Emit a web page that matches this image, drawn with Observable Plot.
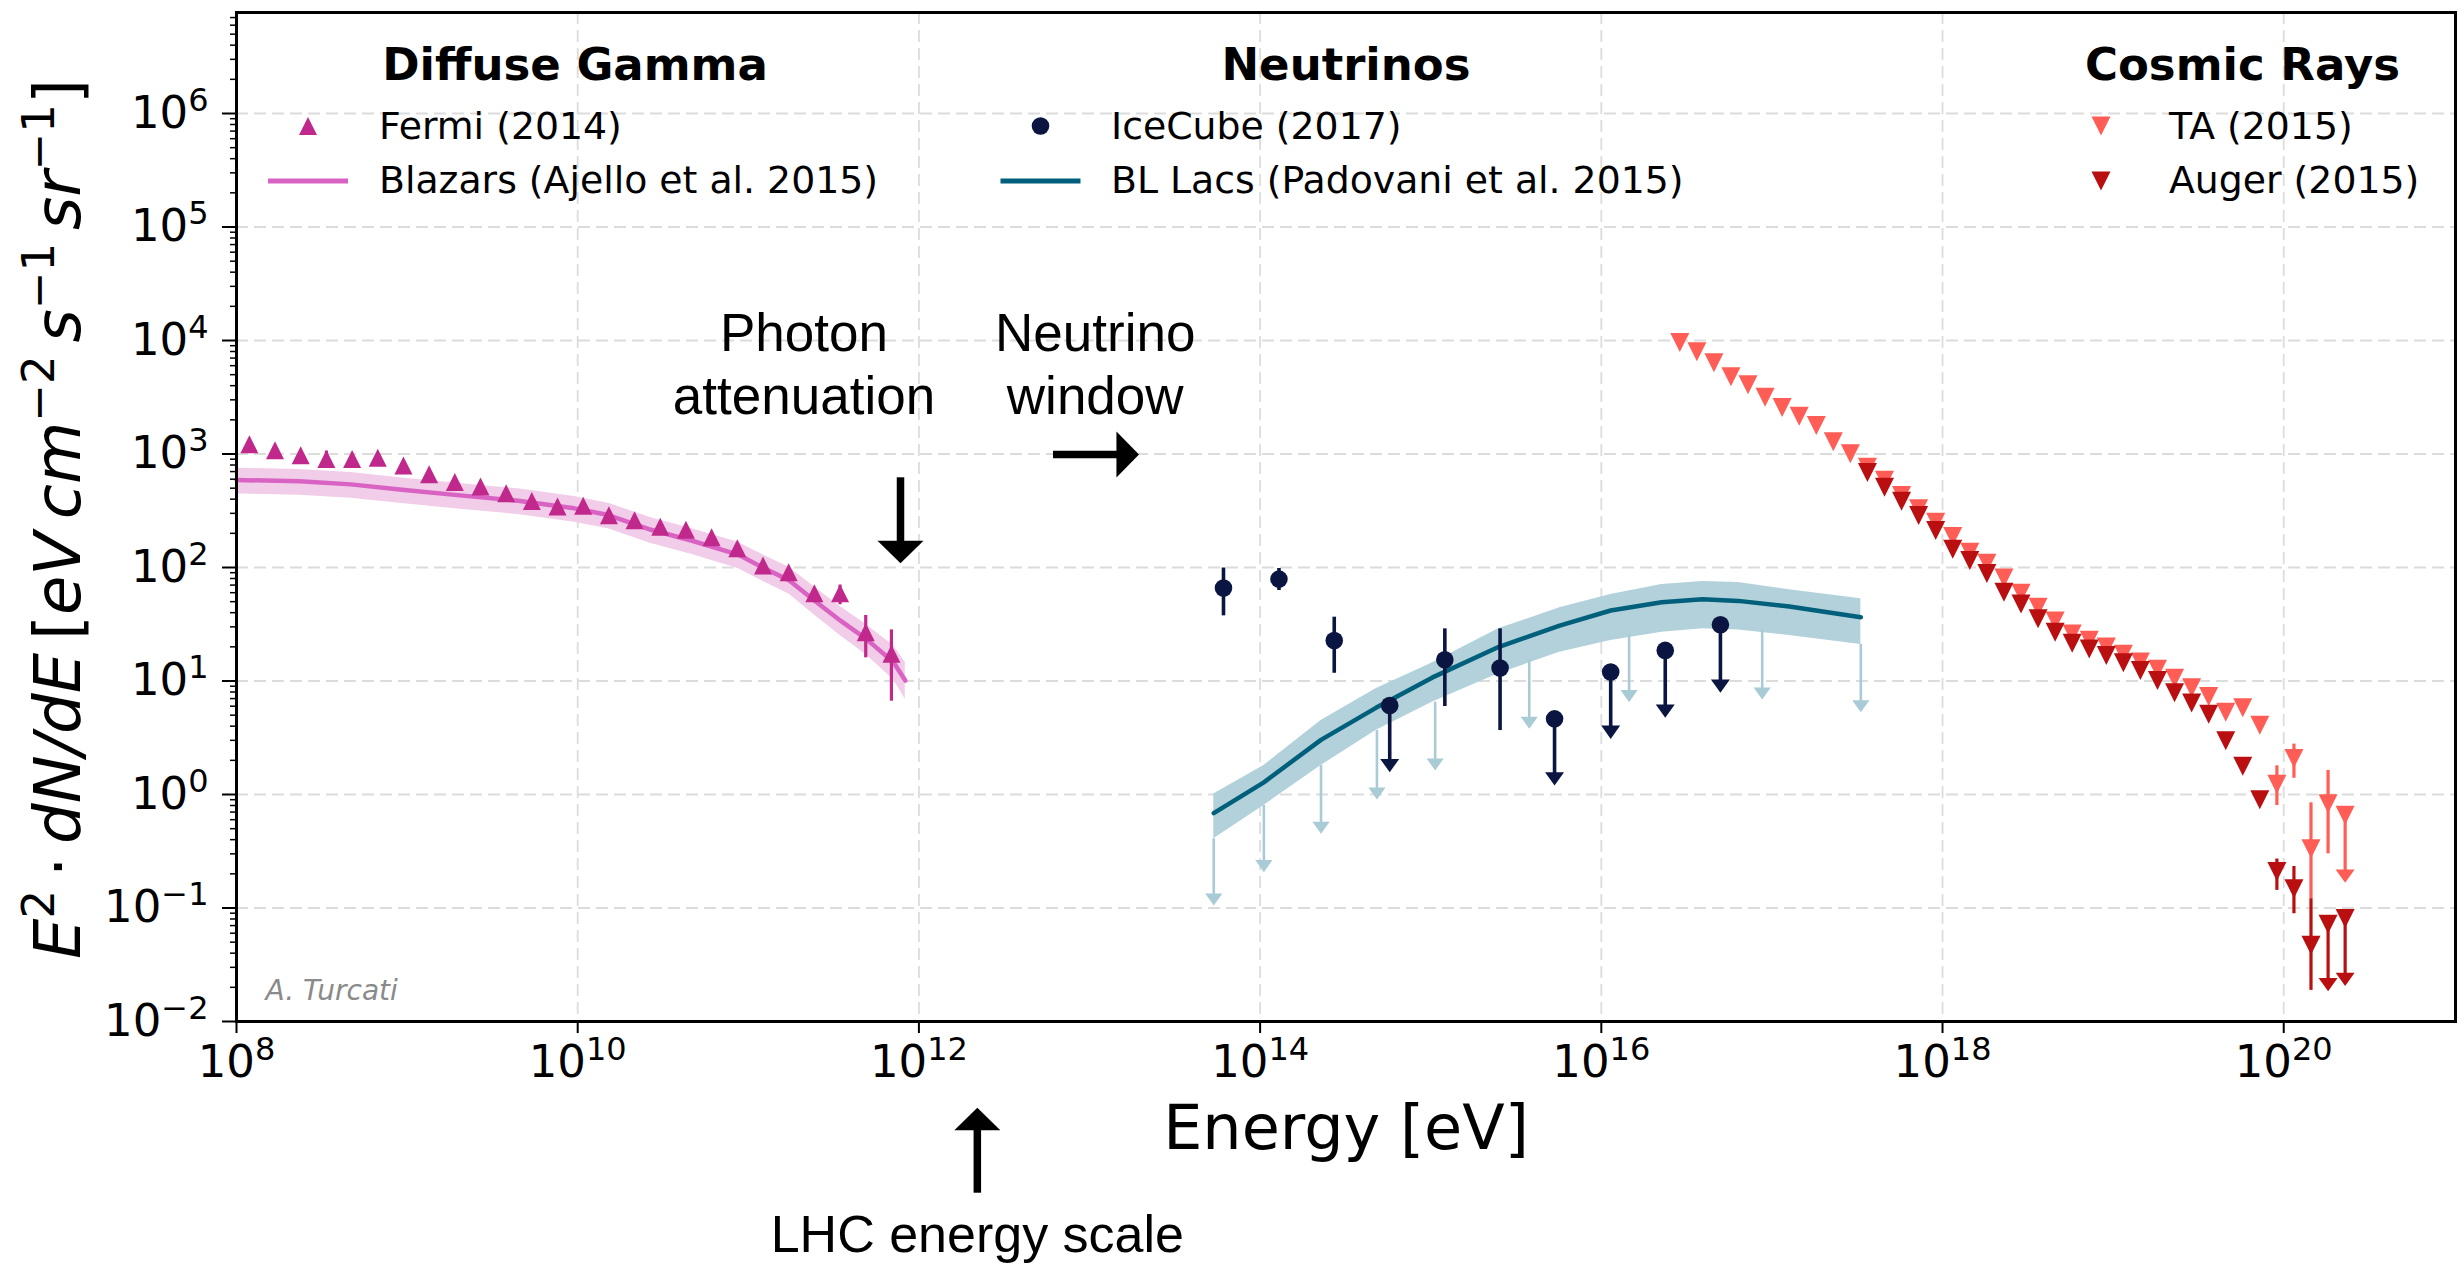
<!DOCTYPE html>
<html>
<head>
<meta charset="utf-8">
<script src="https://cdn.jsdelivr.net/npm/d3@7"></script>
<script src="https://cdn.jsdelivr.net/npm/@observablehq/plot@0.6"></script>
<style>
  html, body { margin: 0; padding: 0; background: #ffffff; }
  #chart { width: 2462px; height: 1264px; }
</style>
</head>
<body>
<div id="chart"></div>
<script>
// ---------- Diffuse gamma rays: Fermi-LAT (2014) ----------
const fermiEnergy = [1.190e8, 1.682e8, 2.379e8, 3.365e8, 4.760e8, 6.730e8, 9.518e8, 1.346e9, 1.904e9, 2.693e9,
  3.808e9, 5.385e9, 7.617e9, 1.077e10, 1.524e10, 2.155e10, 3.047e10, 4.310e10, 6.095e10, 8.620e10,
  1.219e11, 1.724e11, 2.439e11, 3.449e11, 4.879e11, 6.900e11];
const fermiFlux = [1216, 1081, 977, 904, 904, 925, 792, 662, 568, 518,
  450, 385, 345, 350, 289, 261, 229, 215, 185, 148,
  104, 91, 59.4, 59.2, 26.9, 17.4];
const fermiErrLow = [null, null, null, 760, null, null, null, null, null, null,
  null, null, null, null, null, null, null, null, null, null,
  null, null, null, 47, 16.0, 6.64];
const fermiErrHigh = [null, null, null, 1060, null, null, null, null, null, null,
  null, null, null, null, null, null, null, null, null, null,
  null, null, null, 70, 37.8, 28.2];

// ---------- Blazar model (Ajello et al. 2015) ----------
const blazarEnergy = [1.0e8, 2.34e8, 4.68e8, 9.33e8, 2.04e9, 4.47e9, 9.55e9, 1.51e10, 2.69e10, 4.68e10,
  8.71e10, 1.23e11, 1.74e11, 2.45e11, 3.47e11, 4.90e11, 7.08e11, 8.32e11];
const blazarFlux = [590, 575, 540, 485, 432, 388, 332, 290, 215, 172, 130, 99, 77, 51, 34, 23.5, 14.7, 10.1];
const blazarHigh = [750, 730, 686, 616, 549, 493, 422, 368, 275, 220, 167, 128, 100, 67, 45, 31.5, 20.5, 14.6];
const blazarLow = [445, 434, 408, 366, 326, 293, 251, 219, 163, 130, 98, 75, 58, 38, 25, 17, 10.3, 6.9];

// ---------- Neutrinos: IceCube (2017) ----------
const icecubeEnergy = [6.10e13, 1.29e14, 2.72e14, 5.75e14, 1.21e15, 2.55e15, 5.32e15, 1.135e16, 2.37e16, 4.99e16];
const icecubeFlux = [66, 79, 22.7, 6.08, 15.4, 13.0, 4.64, 12.0, 18.6, 31.3];
const icecubeLow = [37.5, 62.7, 11.7, 1.57, 5.96, 3.66, 1.20, 3.09, 4.74, 7.87];
const icecubeHigh = [99, 98, 36.5, null, 28.8, 28.8, null, null, null, null];
const icecubeIsLimit = [false, false, false, true, false, false, true, true, true, true];

// ---------- BL Lac neutrino model (Padovani et al. 2015) ----------
const bllacEnergy = [5.35e13, 1.052e14, 2.275e14, 4.775e14, 1.019e15, 2.495e15, 5.70e15, 1.135e16, 2.26e16,
  3.92e16, 6.35e16, 1.265e17, 3.32e17];
const bllacFlux = [0.685, 1.28, 3.03, 5.80, 10.7, 19.9, 30.8, 41.8, 49.5, 52.5, 50.8, 45.3, 36.5];
const bllacHigh = [1.01, 1.80, 4.49, 8.53, 14.4, 28.8, 44.1, 57.8, 70.8, 75.3, 73.8, 63.6, 53.0];
const bllacLow = [0.407, 0.80, 1.80, 3.66, 6.51, 11.6, 17.9, 22.7, 26.9, 28.8, 28.2, 25.2, 21.0];
// upper limits hanging from the lower edge of the BL Lac band
const bllacLimitEnergy = [5.35e13, 1.052e14, 2.275e14, 4.84e14, 1.062e15, 3.78e15, 1.455e16, 8.77e16, 3.32e17];
const bllacLimitTop = [0.407, 0.80, 1.80, 3.66, 6.51, 15.2, 26.0, 27.9, 21.0];
const bllacLimitTip = [0.105, 0.207, 0.450, 0.904, 1.63, 3.79, 6.51, 6.87, 5.31];

// ---------- Cosmic rays: Telescope Array (2015) ----------
const taEnergy = [2.884e16, 3.631e16, 4.571e16, 5.754e16, 7.244e16, 9.120e16, 1.148e17, 1.445e17, 1.820e17, 2.291e17,
  2.884e17, 3.631e17, 4.571e17, 5.754e17, 7.244e17, 9.120e17, 1.148e18, 1.445e18, 1.820e18, 2.291e18,
  2.884e18, 3.631e18, 4.571e18, 5.754e18, 7.244e18, 9.120e18, 1.148e19, 1.445e19, 1.820e19, 2.291e19,
  2.884e19, 3.631e19, 4.571e19, 5.754e19, 7.244e19, 9.120e19, 1.148e20, 1.445e20, 1.820e20, 2.291e20];
const taFlux = [9600, 7950, 6360, 4790, 4070, 3170, 2570, 2155, 1780, 1280,
  1003, 766, 588, 431, 329, 251, 188, 136, 109, 81,
  59.4, 44.7, 33.7, 26.0, 22.9, 19.9, 17.2, 14.7, 12.7, 10.6,
  8.7, 7.3, 5.3, 5.8, 4.07, 1.23, 2.08, 0.332, 0.83, 0.658];
const taErrLow = Array(35).fill(null).concat([0.80, 1.39, 0.12, 0.30, 0.167]);
const taErrHigh = Array(35).fill(null).concat([1.79, 2.78, 0.845, 1.63, null]);
const taIsLimit = Array(39).fill(false).concat([true]);

// ---------- Cosmic rays: Pierre Auger (2015) ----------
const augerEnergy = [3.631e17, 4.571e17, 5.754e17, 7.244e17, 9.120e17, 1.148e18, 1.445e18, 1.820e18, 2.291e18,
  2.884e18, 3.631e18, 4.571e18, 5.754e18, 7.244e18, 9.120e18, 1.148e19, 1.445e19, 1.820e19, 2.291e19,
  2.884e19, 3.631e19, 4.571e19, 5.754e19, 7.244e19, 9.120e19, 1.148e20, 1.445e20, 1.820e20, 2.291e20];
const augerFlux = [687, 510, 384, 287, 212, 145, 115, 88.5, 60.6,
  47.8, 35.3, 26.9, 21.5, 19.1, 16.8, 14.5, 12.4, 10.1, 7.86,
  6.4, 5.1, 2.97, 1.77, 0.90, 0.21, 0.148, 0.047, 0.072, 0.081];
const augerErrLow = Array(24).fill(null).concat([0.143, 0.089, 0.0188, 0.0185, 0.0205]);
const augerErrHigh = Array(24).fill(null).concat([0.27, 0.232, 0.1205, null, null]);
const augerIsLimit = Array(27).fill(false).concat([true, true]);

// ---------- annotations ----------
const noteText = ["Photon\nattenuation", "Neutrino\nwindow"];
const noteEnergy = [2.12e11, 1.08e13];
const noteFlux = [2230, 2230];
const lhcText = "LHC energy scale";
const lhcEnergy = 2.2e12;
const lhcTextFlux = 9.4e-5;
const lhcArrowFlux = [1.74e-3, 3.07e-4];       // tip, tail (below the axis)
const photonArrow = {energy: 7.8e11, from: 617, to: 109};
const neutrinoArrow = {flux: 990, from: 6.15e12, to: 1.95e13};

// ---------- axes ----------
const xTicks = [1e8, 1e10, 1e12, 1e14, 1e16, 1e18, 1e20];
const yTicks = [1e-2, 1e-1, 1e0, 1e1, 1e2, 1e3, 1e4, 1e5, 1e6];
const yMinorTicks = yTicks.flatMap(t => d3.range(2, 10).map(m => m * t)).filter(v => v < 7.7e6);

// ---------- colours ----------
const fermiColor = "#c0298b";
const blazarColor = "#d863c3";
const blazarBand = "#f1cde9";
const icecubeColor = "#0b1541";
const bllacColor = "#00607c";
const bllacBand = "#b2d1da";
const bllacLimitColor = "#a9cbd5";
const taColor = "#ff5d55";
const augerColor = "#b90f10";

// ---------- symbols (size = pi r^2, so r is recovered) ----------
const triangleUp = {draw(ctx, size) { const r = Math.sqrt(size / Math.PI);
  ctx.moveTo(0, -r); ctx.lineTo(r, r); ctx.lineTo(-r, r); ctx.closePath(); }};
const triangleDown = {draw(ctx, size) { const r = Math.sqrt(size / Math.PI);
  ctx.moveTo(0, r); ctx.lineTo(-r, -r); ctx.lineTo(r, -r); ctx.closePath(); }};
// arrow head with its tip on the anchor point, pointing down before rotation
const arrowHead = (aspect) => ({draw(ctx, size) { const r = Math.sqrt(size / Math.PI), h = 2 * r * aspect;
  ctx.moveTo(0, 0); ctx.lineTo(-r, -h); ctx.lineTo(r, -h); ctx.closePath(); }});
const capHead = arrowHead(0.7);
const bigHead = arrowHead(0.49);

// ---------- tables ----------
const fermi = fermiEnergy.map((e, i) => ({e, f: fermiFlux[i], lo: fermiErrLow[i], hi: fermiErrHigh[i]}));
const blazar = blazarEnergy.map((e, i) => ({e, f: blazarFlux[i], lo: blazarLow[i], hi: blazarHigh[i]}));
const icecube = icecubeEnergy.map((e, i) => ({e, f: icecubeFlux[i], lo: icecubeLow[i], hi: icecubeHigh[i], limit: icecubeIsLimit[i]}));
const bllac = bllacEnergy.map((e, i) => ({e, f: bllacFlux[i], lo: bllacLow[i], hi: bllacHigh[i]}));
const bllacLimits = bllacLimitEnergy.map((e, i) => ({e, top: bllacLimitTop[i], tip: bllacLimitTip[i]}));
const ta = taEnergy.map((e, i) => ({e, f: taFlux[i], lo: taErrLow[i], hi: taErrHigh[i], limit: taIsLimit[i]}));
const auger = augerEnergy.map((e, i) => ({e, f: augerFlux[i], lo: augerErrLow[i], hi: augerErrHigh[i], limit: augerIsLimit[i]}));
const notes = noteText.map((t, i) => ({t, e: noteEnergy[i], f: noteFlux[i]}));

// error bars and upper-limit arrows for one data set
function errorMarks(rows, color, width) {
  const bars = rows.filter(d => !d.limit && d.lo != null && d.hi != null);
  const limits = rows.filter(d => d.limit);
  return [
    Plot.ruleX(bars, {x: "e", y1: "hi", y2: "lo", stroke: color, strokeWidth: width}),
    Plot.ruleX(limits, {x: "e", y1: "f", y2: "lo", stroke: color, strokeWidth: width, insetBottom: 6}),
    Plot.dot(limits, {x: "e", y: "lo", symbol: capHead, r: 9.5, fill: color, stroke: null})
  ];
}

const gridStyle = {stroke: "#dcdcdc", strokeOpacity: 1, strokeWidth: 1.8, strokeDasharray: "12,6"};
const expFormat = d => "10^" + Math.round(Math.log10(d));

const chart = Plot.plot({
  width: 2462,
  height: 1264,
  marginLeft: 236,
  marginRight: 7,
  marginTop: 12,
  marginBottom: 243,
  style: {fontFamily: "'DejaVu Sans', sans-serif", fontSize: "45px", background: "#ffffff", color: "#000"},
  x: {type: "log", domain: [1e8, 1.016e21]},
  y: {type: "log", domain: [1e-2, 7.76e6]},
  marks: [
    Plot.gridX({ticks: xTicks, ...gridStyle}),
    Plot.gridY({ticks: yTicks, ...gridStyle}),

    // diffuse gamma
    Plot.areaY(blazar, {x: "e", y1: "lo", y2: "hi", fill: blazarBand, curve: "linear"}),
    Plot.line(blazar, {x: "e", y: "f", stroke: blazarColor, strokeWidth: 4.5}),
    ...errorMarks(fermi, fermiColor, 3.2),
    Plot.dot(fermi, {x: "e", y: "f", symbol: triangleUp, r: 9, fill: fermiColor, stroke: null}),

    // neutrinos
    Plot.areaY(bllac, {x: "e", y1: "lo", y2: "hi", fill: bllacBand}),
    Plot.ruleX(bllacLimits, {x: "e", y1: "top", y2: "tip", stroke: bllacLimitColor, strokeWidth: 2.6, insetBottom: 6}),
    Plot.dot(bllacLimits, {x: "e", y: "tip", symbol: capHead, r: 8.6, fill: bllacLimitColor, stroke: null}),
    Plot.line(bllac, {x: "e", y: "f", stroke: bllacColor, strokeWidth: 4.5}),
    ...errorMarks(icecube, icecubeColor, 3.6),
    Plot.dot(icecube, {x: "e", y: "f", r: 8.8, fill: icecubeColor, stroke: null}),

    // cosmic rays
    ...errorMarks(ta, taColor, 3.2),
    Plot.dot(ta, {x: "e", y: "f", symbol: triangleDown, r: 9.5, fill: taColor, stroke: null}),
    ...errorMarks(auger, augerColor, 3.2),
    Plot.dot(auger, {x: "e", y: "f", symbol: triangleDown, r: 9.5, fill: augerColor, stroke: null}),

    // annotations
    Plot.text(notes, {x: "e", y: "f", text: "t", fontSize: 53, fontFamily: "'Liberation Sans', Arial, sans-serif",
      lineAnchor: "bottom", lineHeight: 1.194, textAnchor: "middle", fill: "#000"}),
    Plot.ruleX([photonArrow], {x: "energy", y1: "from", y2: "to", stroke: "#000", strokeWidth: 7.5, insetBottom: 20}),
    Plot.dot([photonArrow], {x: "energy", y: "to", symbol: bigHead, r: 23, fill: "#000", stroke: null}),
    Plot.ruleY([neutrinoArrow], {y: "flux", x1: "from", x2: "to", stroke: "#000", strokeWidth: 7.5, insetRight: 20}),
    Plot.dot([neutrinoArrow], {x: "to", y: "flux", symbol: bigHead, r: 23, rotate: -90, fill: "#000", stroke: null}),
    Plot.ruleX([lhcEnergy], {x: d => d, y1: lhcArrowFlux[0], y2: lhcArrowFlux[1], stroke: "#000", strokeWidth: 7.5, insetTop: 20}),
    Plot.dot([lhcEnergy], {x: d => d, y: lhcArrowFlux[0], symbol: bigHead, r: 23, rotate: 180, fill: "#000", stroke: null}),
    Plot.text([lhcText], {x: lhcEnergy, y: lhcTextFlux, text: d => d, fontSize: 52,
      fontFamily: "'Liberation Sans', Arial, sans-serif", lineAnchor: "bottom", textAnchor: "middle", fill: "#000"}),

    Plot.text(["A. Turcati"], {text: d => d, frameAnchor: "bottom-left", dx: 29, dy: -22, textAnchor: "start",
      lineAnchor: "bottom", fontSize: 28, fontStyle: "italic", fill: "#8a8a8a"}),
    Plot.text(["Energy [eV]"], {text: d => d, frameAnchor: "bottom", dy: 127, lineAnchor: "bottom", fontSize: 62, fill: "#000"}),

    // axes
    Plot.axisX({ticks: xTicks, tickSize: 12, tickPadding: 12, tickFormat: expFormat, label: null, strokeWidth: 2}),
    Plot.axisY({ticks: yTicks, tickSize: 14, tickPadding: 14, tickFormat: expFormat, label: null, strokeWidth: 2}),
    Plot.axisY({ticks: yMinorTicks, tickSize: 6, tickFormat: () => "", label: null, strokeWidth: 1.5}),
    Plot.frame({stroke: "#000", strokeWidth: 3})
  ]
});

const ns = "http://www.w3.org/2000/svg";

// tick labels as 10 with a raised exponent
chart.querySelectorAll('g[aria-label$="tick label"] text').forEach(t => {
  const m = /^10\^(.+)$/.exec(t.textContent);
  if (!m) return;
  t.textContent = "10";
  const sup = document.createElementNS(ns, "tspan");
  sup.setAttribute("font-size", "32");
  sup.setAttribute("dy", "-17");
  sup.textContent = m[1].replace("-", "\u2212");
  t.appendChild(sup);
});

// y-axis label with superscripts
(function addYLabel() {
  const t = document.createElementNS(ns, "text");
  t.setAttribute("transform", "translate(80,519) rotate(-90)");
  t.setAttribute("text-anchor", "middle");
  t.setAttribute("font-family", "'DejaVu Sans', sans-serif");
  t.setAttribute("font-size", "64");
  const parts = [["E", "it"], ["2", "sup"], ["\u2009\u00b7\u2009", "rm"], ["dN/dE", "it"], ["\u2009[", "rm"],
    ["eV\u2009cm", "it"], ["\u22122", "sup"], ["\u2009s", "it"], ["\u22121", "sup"], ["\u2009sr", "it"], ["\u22121", "sup"], ["]", "rm"]];
  let raised = false;
  for (const [s, kind] of parts) {
    const sp = document.createElementNS(ns, "tspan");
    if (kind === "sup") {
      sp.setAttribute("font-size", "45");
      if (!raised) { sp.setAttribute("dy", "-26"); raised = true; }
    } else {
      if (raised) { sp.setAttribute("dy", "26"); raised = false; }
      if (kind === "it") sp.setAttribute("font-style", "italic");
    }
    sp.textContent = s;
    t.appendChild(sp);
  }
  chart.appendChild(t);
})();

// legend: three grouped columns inside the frame
const legendGroups = [
  {title: "Diffuse Gamma", titleX: 575, markX: 308, textX: 379, items: [
    {kind: "symbol", symbol: triangleUp, r: 9, color: fermiColor, label: "Fermi (2014)"},
    {kind: "line", color: blazarColor, label: "Blazars (Ajello et al. 2015)"}]},
  {title: "Neutrinos", titleX: 1346, markX: 1040.5, textX: 1111, items: [
    {kind: "symbol", symbol: d3.symbolCircle, r: 8.8, color: icecubeColor, label: "IceCube (2017)"},
    {kind: "line", color: bllacColor, label: "BL Lacs (Padovani et al. 2015)"}]},
  {title: "Cosmic Rays", titleX: 2242.5, markX: 2101, textX: 2169, items: [
    {kind: "symbol", symbol: triangleDown, r: 9.5, color: taColor, label: "TA (2015)"},
    {kind: "symbol", symbol: triangleDown, r: 9.5, color: augerColor, label: "Auger (2015)"}]}
];
const rowMarkY = [126, 181];
const rowTextY = [139, 193];
const legend = d3.select(chart).append("g").attr("font-family", "'DejaVu Sans', sans-serif");
for (const g of legendGroups) {
  legend.append("text").attr("x", g.titleX).attr("y", 80).attr("text-anchor", "middle")
    .attr("font-weight", "bold").attr("font-size", 45).attr("fill", "#000").text(g.title);
  g.items.forEach((it, k) => {
    if (it.kind === "line") {
      legend.append("line").attr("x1", g.markX - 40).attr("x2", g.markX + 40)
        .attr("y1", rowMarkY[k]).attr("y2", rowMarkY[k]).attr("stroke", it.color).attr("stroke-width", 5);
    } else {
      legend.append("path").attr("transform", `translate(${g.markX},${rowMarkY[k]})`)
        .attr("d", d3.symbol(it.symbol, Math.PI * it.r * it.r)()).attr("fill", it.color);
    }
    legend.append("text").attr("x", g.textX).attr("y", rowTextY[k]).attr("text-anchor", "start")
      .attr("font-size", 37.8).attr("fill", "#000").text(it.label);
  });
}

document.getElementById("chart").appendChild(chart);
</script>
</body>
</html>
